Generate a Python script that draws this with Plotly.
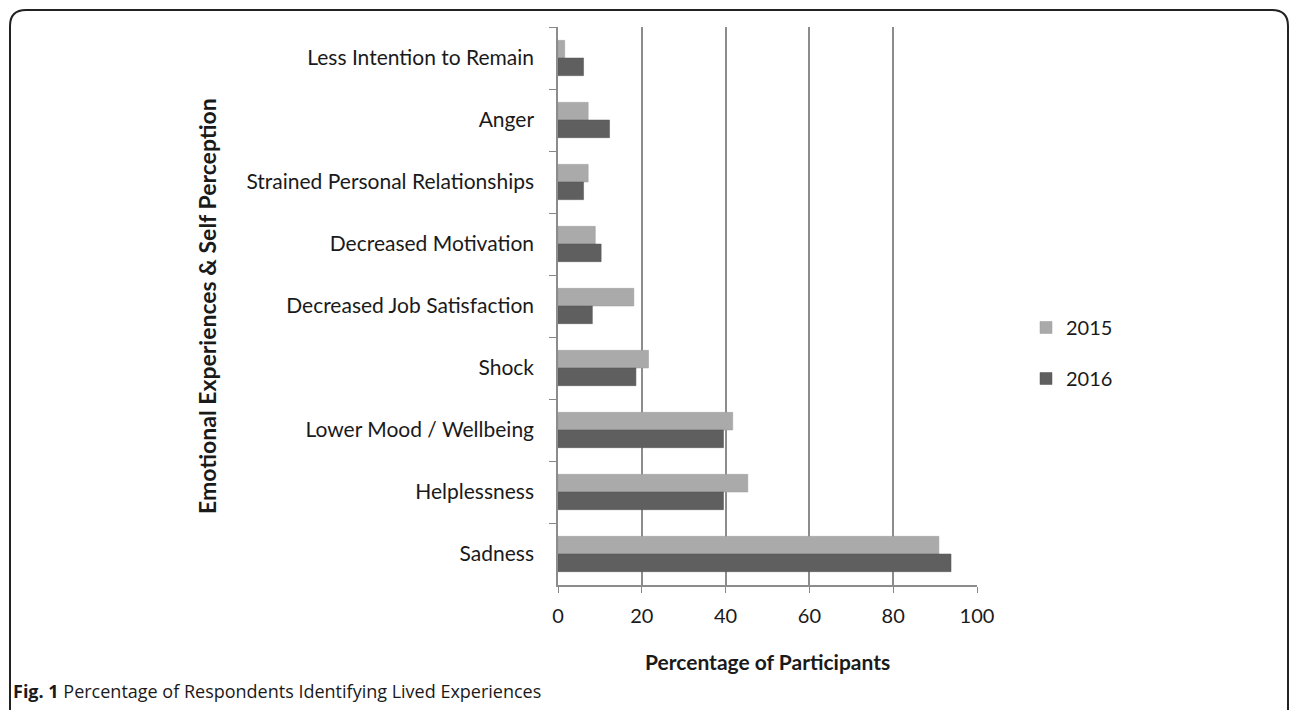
import plotly.graph_objects as go

# Categories listed top to bottom as they appear on the chart
categories = [
    "Less Intention to Remain",
    "Anger",
    "Strained Personal Relationships",
    "Decreased Motivation",
    "Decreased Job Satisfaction",
    "Shock",
    "Lower Mood / Wellbeing",
    "Helplessness",
    "Sadness",
]
values_2015 = [1.6, 7.2, 7.2, 8.9, 18.1, 21.6, 41.7, 45.3, 90.9]
values_2016 = [6.1, 12.3, 6.1, 10.3, 8.2, 18.6, 39.5, 39.5, 93.8]
x_ticks = [0, 20, 40, 60, 80, 100]

W, H = 1290, 710
L, R, T, B = 558, 977, 27, 585  # plot area in pixels


def px(x):
    return (x - L) / (R - L)


def py(y):
    return (B - y) / (B - T)


FONT = "Lato"
TXT = "#1a1a1a"

fig = go.Figure()
fig.add_trace(go.Bar(
    y=categories, x=values_2015, name="2015", orientation="h",
    legendgroup="2015",
    marker=dict(color="#aaaaaa", line=dict(color="#9a9a9a", width=0.5)),
))
fig.add_trace(go.Bar(
    y=categories, x=values_2016, name="2016", orientation="h",
    legendgroup="2016",
    marker=dict(color="#5f5f5f", line=dict(color="#545454", width=0.5)),
))

# Rounded outer frame, open at the bottom
r = 16
x0, x1, y0, y1 = 10, 1288, 10, 760
frame = (
    f"M {px(x0)},{py(y1)} L {px(x0)},{py(y0 + r)} "
    f"Q {px(x0)},{py(y0)} {px(x0 + r)},{py(y0)} "
    f"L {px(x1 - r)},{py(y0)} Q {px(x1)},{py(y0)} {px(x1)},{py(y0 + r)} "
    f"L {px(x1)},{py(y1)}"
)

fig.update_layout(
    width=W, height=H,
    margin=dict(l=L, r=W - R, t=T, b=H - B, pad=0),
    paper_bgcolor="white", plot_bgcolor="white",
    barmode="group", bargap=0.43, bargroupgap=0,
    font=dict(family=FONT, size=20, color=TXT),
    showlegend=True,
    legend=dict(
        x=px(1026), y=py(353), xanchor="left", yanchor="middle",
        font=dict(size=20, color=TXT), tracegroupgap=22,
        traceorder="grouped", itemwidth=30, bgcolor="rgba(0,0,0,0)",
    ),
    shapes=[dict(type="path", path=frame, xref="paper", yref="paper",
                 line=dict(color="#222222", width=2), fillcolor="rgba(0,0,0,0)")],
    annotations=[
        dict(text="<b>Emotional Experiences & Self Perception</b>",
             x=px(207), y=0.5, xref="paper", yref="paper", textangle=-90,
             showarrow=False, font=dict(size=23, color=TXT),
             xanchor="center", yanchor="middle"),
        dict(text="<b>Percentage of Participants</b>",
             x=0.5, y=py(661), xref="paper", yref="paper",
             showarrow=False, font=dict(size=21, color=TXT),
             xanchor="center", yanchor="middle"),
        dict(text="<b>Fig. 1</b> Percentage of Respondents Identifying Lived Experiences",
             x=px(11), y=py(691), xref="paper", yref="paper",
             showarrow=False, font=dict(family="Open Sans", size=18, color=TXT),
             xanchor="left", yanchor="middle"),
    ],
)

fig.update_xaxes(
    range=[0, 100], tickvals=x_ticks, ticks="outside", ticklen=6,
    tickcolor="#888888", showgrid=True, gridcolor="#8c8c8c", gridwidth=1.5,
    showline=True, linecolor="#8c8c8c", linewidth=1.5, zeroline=False,
    tickfont=dict(size=20, color=TXT), ticklabelstandoff=6,
)
fig.update_yaxes(
    categoryorder="array", categoryarray=categories, autorange="reversed",
    ticks="outside", tickson="boundaries", ticklen=7, tickcolor="#888888",
    showline=True, linecolor="#8c8c8c", linewidth=1.5, showgrid=False,
    tickfont=dict(size=21, color=TXT), ticklabelstandoff=18,
)

fig.write_html("out.html")
